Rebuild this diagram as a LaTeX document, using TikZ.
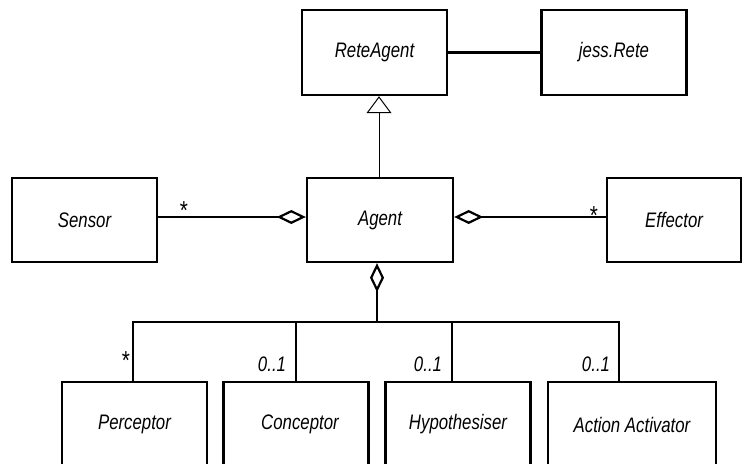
\documentclass[tikz,border=0pt]{standalone}
\usepackage{fontspec}
\setmainfont{Liberation Sans}[FakeStretch=0.8]
\usetikzlibrary{arrows.meta}
\begin{document}
\begin{tikzpicture}[x=1pt,y=-1pt,
  font=\fontsize{21}{25}\selectfont\itshape,
  cls/.style={draw, line width=2.4pt, minimum width=145pt, minimum height=85pt, inner sep=0pt},
  link/.style={line width=2.2pt},
  agg/.style={link, -{Diamond[open, length=29pt, width=14pt, line width=2.2pt]}},
  inherit/.style={line width=1pt, -{Triangle[open, length=17pt, width=25pt, line width=1pt]}},
  mult/.style={inner sep=0pt, font=\fontsize{26}{30}\selectfont}
]
\useasboundingbox (0,0) rectangle (744,463);
\clip (0,0) rectangle (744,463);

% classes
\node[cls] (rete)   at (374.5,52.5) {ReteAgent};
\node[cls] (jess)   at (614,52.5)   {jess.Rete};
\node[cls, minimum height=84pt] (sensor) at (84.5,220) {Sensor};
\node[cls, minimum height=84pt, minimum width=146pt] (agent) at (380,220) {Agent};
\node[cls, minimum height=84pt, minimum width=134pt] (effector) at (674,220) {Effector};
\node[cls] (perc)  at (134.5,424.5) {Perceptor};
\node[cls] (conc)  at (296,424.5)   {\hspace{8pt}Conceptor};
\node[cls] (hyp)   at (458,424.5)   {Hypothesiser};
\node[cls, minimum width=168pt] (act) at (632,424.5) {Action Activator};

% association and generalisation
\draw[link] (rete.east) -- (jess.west);
\draw[inherit] ([xshift=-1pt]agent.north) -- ([xshift=4.5pt]rete.south);

% sensor and effector aggregations
\draw[agg] ([yshift=3pt]sensor.east) -- ([yshift=3pt]agent.west);
\draw[agg] ([yshift=3pt]effector.west) -- ([yshift=3pt]agent.east);
\node[mult] (ms) at (184,211) {*};
\node[mult] (me) at (594,216) {*};

% part aggregation
\coordinate (bus) at (377,322);
\draw[agg] (bus) -- ([xshift=-3pt]agent.south);
\coordinate (dP) at ([xshift=-1.5pt]perc.north);
\coordinate (dC) at (conc.north);
\coordinate (dH) at ([xshift=-6pt]hyp.north);
\coordinate (dA) at ([xshift=-13pt]act.north);
\draw[link] (dP) -- (dP |- bus) -- (dA |- bus) -- (dA);
\draw[link] (dC) -- (dC |- bus);
\draw[link] (dH) -- (dH |- bus);

\node[mult] (mp) at (126,361) {*};
\node[inner sep=0pt] (mc) at (272,364) {0..1};
\node[inner sep=0pt] (mh) at (428,364) {0..1};
\node[inner sep=0pt] (ma) at (596,364) {0..1};
\end{tikzpicture}
\end{document}
